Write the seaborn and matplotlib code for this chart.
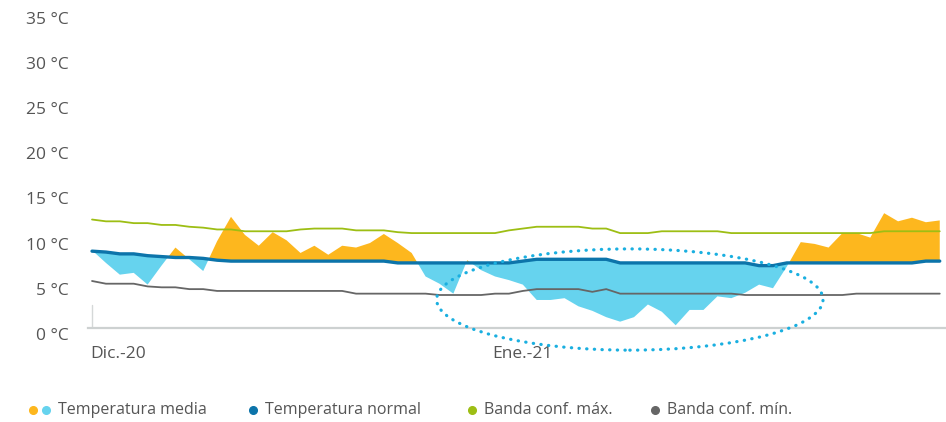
import numpy as np
import pandas as pd
import matplotlib
matplotlib.use("Agg")
import matplotlib.pyplot as plt
import matplotlib.dates as mdates
import seaborn as sns
from matplotlib.patches import Ellipse
from matplotlib.lines import Line2D
from matplotlib.transforms import ScaledTranslation

# Datos diarios: 1 dic 2020 -> 31 ene 2021
fechas = pd.date_range("2020-12-01", "2021-01-31", freq="D")

temp_media = [8.6, 7.2, 5.9, 6.1, 4.8, 6.9, 8.9, 7.6, 6.3, 9.6,
              12.3, 10.3, 9.1, 10.6, 9.7, 8.3, 9.1, 8.1, 9.1, 8.9,
              9.4, 10.4, 9.4, 8.3, 5.7, 4.9, 3.8, 7.5, 6.4, 5.7,
              5.3, 4.8, 3.1, 3.1, 3.3, 2.4, 1.9, 1.2, 0.7, 1.2,
              2.6, 1.8, 0.3, 2.0, 2.0, 3.5, 3.3, 3.9, 4.8, 4.4,
              6.8, 9.5, 9.3, 8.9, 10.5, 10.5, 10.0, 12.7, 11.8, 12.2,
              11.7, 11.9]

temp_normal = [8.5, 8.4, 8.2, 8.2, 8.0, 7.9, 7.8, 7.8, 7.7, 7.5,
               7.4, 7.4, 7.4, 7.4, 7.4, 7.4, 7.4, 7.4, 7.4, 7.4,
               7.4, 7.4, 7.2, 7.2, 7.2, 7.2, 7.2, 7.2, 7.2, 7.2,
               7.2, 7.4, 7.6, 7.6, 7.6, 7.6, 7.6, 7.6, 7.2, 7.2,
               7.2, 7.2, 7.2, 7.2, 7.2, 7.2, 7.2, 7.2, 6.9, 6.9,
               7.2, 7.2, 7.2, 7.2, 7.2, 7.2, 7.2, 7.2, 7.2, 7.2,
               7.4, 7.4]

banda_max = [12.0, 11.8, 11.8, 11.6, 11.6, 11.4, 11.4, 11.2, 11.1, 10.9,
             10.9, 10.7, 10.7, 10.7, 10.7, 10.9, 11.0, 11.0, 11.0, 10.8,
             10.8, 10.8, 10.6, 10.5, 10.5, 10.5, 10.5, 10.5, 10.5, 10.5,
             10.8, 11.0, 11.2, 11.2, 11.2, 11.2, 11.0, 11.0, 10.5, 10.5,
             10.5, 10.7, 10.7, 10.7, 10.7, 10.7, 10.5, 10.5, 10.5, 10.5,
             10.5, 10.5, 10.5, 10.5, 10.5, 10.5, 10.5, 10.7, 10.7, 10.7,
             10.7, 10.7]

banda_min = [5.2, 4.9, 4.9, 4.9, 4.6, 4.5, 4.5, 4.3, 4.3, 4.1,
             4.1, 4.1, 4.1, 4.1, 4.1, 4.1, 4.1, 4.1, 4.1, 3.8,
             3.8, 3.8, 3.8, 3.8, 3.8, 3.65, 3.65, 3.65, 3.65, 3.8,
             3.8, 4.1, 4.3, 4.3, 4.3, 4.3, 4.0, 4.3, 3.8, 3.8,
             3.8, 3.8, 3.8, 3.8, 3.8, 3.8, 3.8, 3.65, 3.65, 3.65,
             3.65, 3.65, 3.65, 3.65, 3.65, 3.8, 3.8, 3.8, 3.8, 3.8,
             3.8, 3.8]

y_ticks = [0, 5, 10, 15, 20, 25, 30, 35]
x_labels = ["Dic.-20", "Ene.-21"]

df = pd.DataFrame({"fecha": fechas, "media": temp_media, "normal": temp_normal,
                   "max": banda_max, "min": banda_min})

c_naranja = "#FDB71E"
c_celeste = "#66D3EE"
c_normal = "#0C74AA"
c_verde = "#9DBE14"
c_gris = "#666666"
c_elipse = "#1AAFE0"
c_texto = "#555555"

sns.set_style("white")
plt.rcParams["font.family"] = ["Open Sans", "DejaVu Sans"]

fig = plt.figure(figsize=(9.46, 4.22), dpi=100)
ax = fig.add_axes([88 / 946, 94 / 422, 858 / 946, 316.4 / 422])

media = np.array(temp_media)
normal = np.array(temp_normal)
ax.fill_between(df["fecha"], media, normal, where=media >= normal,
                interpolate=True, color=c_naranja, lw=0)
ax.fill_between(df["fecha"], media, normal, where=media <= normal,
                interpolate=True, color=c_celeste, lw=0)

sns.lineplot(data=df, x="fecha", y="max", color=c_verde, lw=1.3, ax=ax)
sns.lineplot(data=df, x="fecha", y="min", color=c_gris, lw=1.3, ax=ax)
sns.lineplot(data=df, x="fecha", y="normal", color=c_normal, lw=2.4, ax=ax)

# elipse punteada sobre la ola de frío
x0 = mdates.date2num(fechas[0])
elipse = Ellipse((x0 + 38.7, 3.15), width=27.8, height=11.2, fill=False,
                 edgecolor=c_elipse, lw=2.3, linestyle=(0, (0.1, 2.3)),
                 capstyle="round", clip_on=False, zorder=5)
ax.add_patch(elipse)

ax.set_xlim(x0 - 0.29, x0 + 61.45)
ax.set_ylim(0, 35)
ax.set_xlabel("")
ax.set_ylabel("")

ax.set_yticks(y_ticks)
ax.set_yticklabels([f"{v} °C" for v in y_ticks])
ax.tick_params(axis="y", length=0, pad=14, labelsize=12.5, labelcolor=c_texto)
for lab in ax.get_yticklabels():
    lab.set_transform(lab.get_transform() + ScaledTranslation(0, -6 / 100, fig.dpi_scale_trans))

ax.set_xticks([fechas[0], fechas[31]])
ax.set_xticklabels(x_labels)
ax.tick_params(axis="x", length=0, pad=13, labelsize=12.5, labelcolor=c_texto)
ax.get_xticklabels()[0].set_horizontalalignment("left")
ax.get_xticklabels()[0].set_transform(ax.get_xticklabels()[0].get_transform()
                                      + ScaledTranslation(-2 / 100, 0, fig.dpi_scale_trans))

for s in ["top", "right", "left"]:
    ax.spines[s].set_visible(False)
ax.spines["bottom"].set_color("#CDD1D1")
ax.spines["bottom"].set_linewidth(1.6)
ax.axvline(fechas[0], ymin=0, ymax=23 / 316.4, color="#D5D8D8", lw=1)

# leyenda manual
ley_y = (422 - 410) / 422
entradas = [([(33, c_naranja), (46, c_celeste)], 58, "Temperatura media"),
            ([(253, c_normal)], 265, "Temperatura normal"),
            ([(472, c_verde)], 484, "Banda conf. máx."),
            ([(655, c_gris)], 667, "Banda conf. mín.")]
for puntos, xt, texto in entradas:
    for xp, col in puntos:
        fig.add_artist(Line2D([xp / 946], [ley_y], marker="o", ms=5.5, color=col,
                              lw=0, transform=fig.transFigure))
    fig.text(xt / 946, ley_y, texto, ha="left", va="center", fontsize=11.5, color=c_texto)

fig.savefig("out.png", dpi=100)
